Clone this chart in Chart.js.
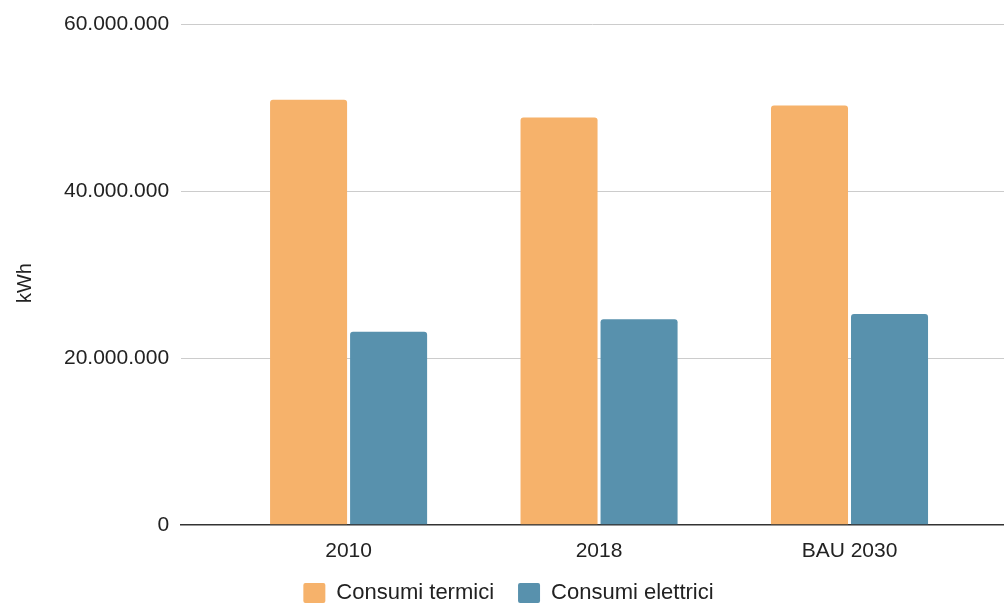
<!DOCTYPE html>
<html>
<head>
<meta charset="utf-8">
<script src="https://cdn.jsdelivr.net/npm/chart.js@4/dist/chart.umd.min.js"></script>
<style>
  html, body { margin: 0; padding: 0; background: #fff; overflow: hidden; }
  #wrap { width: 1004px; height: 604px; overflow: hidden; }
</style>
</head>
<body>
<div id="wrap"><canvas id="c" width="1004" height="614"></canvas></div>
<script>
// Energy consumption by year / scenario (kWh)
const categories = ['2010', '2018', 'BAU 2030'];
const consumiTermici = [51000000, 48850000, 50300000];
const consumiElettrici = [23150000, 24650000, 25300000];
const yTicks = [0, 20000000, 40000000, 60000000];

const FONT = "'Liberation Sans', Arial, Helvetica, sans-serif";
const TEXT = '#222222';

const fmt = v => Math.round(v).toString().replace(/\B(?=(\d{3})+(?!\d))/g, '.');

const toPoints = arr => arr.map((v, i) => ({ x: i, y: v }));

new Chart(document.getElementById('c'), {
  type: 'bar',
  data: {
    datasets: [
      {
        label: 'Consumi termici',
        data: toPoints(consumiTermici),
        backgroundColor: '#F6B26B',
        borderRadius: { topLeft: 3, topRight: 3 },
        borderSkipped: 'start',
        categoryPercentage: 0.639,
        barPercentage: 0.9625
      },
      {
        label: 'Consumi elettrici',
        data: toPoints(consumiElettrici),
        backgroundColor: '#5891AD',
        borderRadius: { topLeft: 3, topRight: 3 },
        borderSkipped: 'start',
        categoryPercentage: 0.639,
        barPercentage: 0.9625
      }
    ]
  },
  options: {
    responsive: false,
    animation: false,
    layout: { padding: { top: 5.5, right: 0, bottom: 0, left: 13 } },
    plugins: {
      tooltip: { enabled: false },
      legend: {
        position: 'bottom',
        labels: {
          font: { family: FONT, size: 22 },
          color: TEXT,
          boxWidth: 22,
          boxHeight: 20,
          padding: 24,
          useBorderRadius: true,
          borderRadius: 2
        }
      }
    },
    scales: {
      x: {
        type: 'linear',
        offset: false,
        min: -0.6687,
        max: 2.6168,
        grid: { display: false, drawTicks: false },
        border: { display: true, color: '#333333', width: 1.5 },
        afterBuildTicks: scale => { scale.ticks = categories.map((_, i) => ({ value: i })); },
        afterFit: scale => { scale.height -= 20; },
        ticks: {
          font: { family: FONT, size: 21 },
          color: TEXT,
          padding: 14,
          autoSkip: false,
          maxRotation: 0,
          callback: v => categories[v]
        }
      },
      y: {
        min: 0,
        max: 60000000,
        afterBuildTicks: scale => { scale.ticks = yTicks.map(v => ({ value: v })); },
        grid: { color: '#cccccc', lineWidth: 1, drawTicks: false },
        border: { display: false },
        ticks: {
          font: { family: FONT, size: 21 },
          color: TEXT,
          padding: 12,
          callback: v => fmt(v)
        },
        title: {
          display: true,
          text: 'kWh   ',
          font: { family: FONT, size: 20 },
          color: TEXT,
          padding: { top: 0, bottom: 15 }
        }
      }
    }
  }
});
</script>
</body>
</html>
